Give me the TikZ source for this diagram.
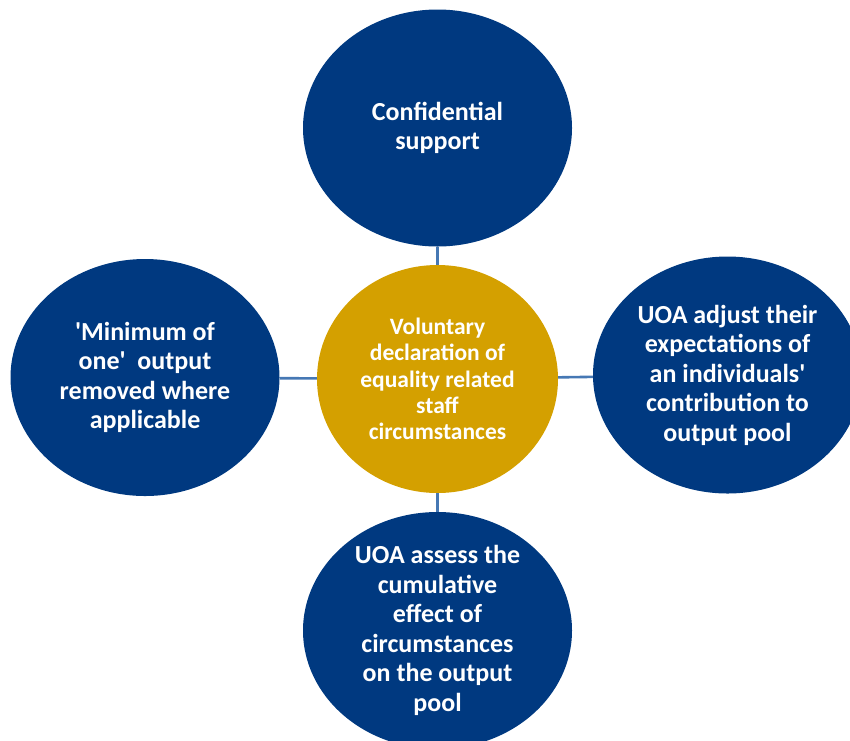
\documentclass[tikz,border=0pt]{standalone}
\usepackage{fontspec}
\setmainfont{Carlito}[Ligatures=TeXOff]
\usetikzlibrary{shapes.geometric}
\definecolor{uoablue}{RGB}{0,57,128}
\definecolor{uoagold}{RGB}{212,160,0}
\definecolor{linkblue}{RGB}{70,120,180}
\tikzset{
  outer/.style={ellipse,fill=uoablue,text=white,align=center,inner sep=-40pt,
    font=\fontsize{26}{29.5}\selectfont\bfseries,
    minimum width=269pt,minimum height=237pt},
  hub/.style={ellipse,fill=uoagold,text=white,align=center,inner sep=-40pt,
    font=\fontsize{23.5}{26.2}\selectfont\bfseries,
    minimum width=241pt,minimum height=228pt},
  link/.style={draw=linkblue,line width=2.6pt}
}
\begin{document}
\begin{tikzpicture}[x=1pt,y=-1pt]
    \clip (0,0) rectangle (850,740);

    \node[hub] (hub) at (437.5,379) {Voluntary\\declaration of\\equality related\\staff\\circumstances};

    \node[outer] (top) at (437.5,128) {Confidential\\support};
    \node[outer] (left) at (145,377.5) {'Minimum of\\one'~ output\\removed where\\applicable};
    \node[outer] (right) at (727.5,375) {UOA adjust their\\expectations of\\an individuals'\\contribution to\\output pool};
    \node[outer] (bottom) at (437.5,630.5) {UOA assess the\\cumulative\\effect of\\circumstances\\on the output\\pool};

    \draw[link] (hub) -- (top);
    \draw[link] (hub) -- (left);
    \draw[link] (hub) -- (right);
    \draw[link] (hub) -- (bottom);
  \end{tikzpicture}
\end{document}
